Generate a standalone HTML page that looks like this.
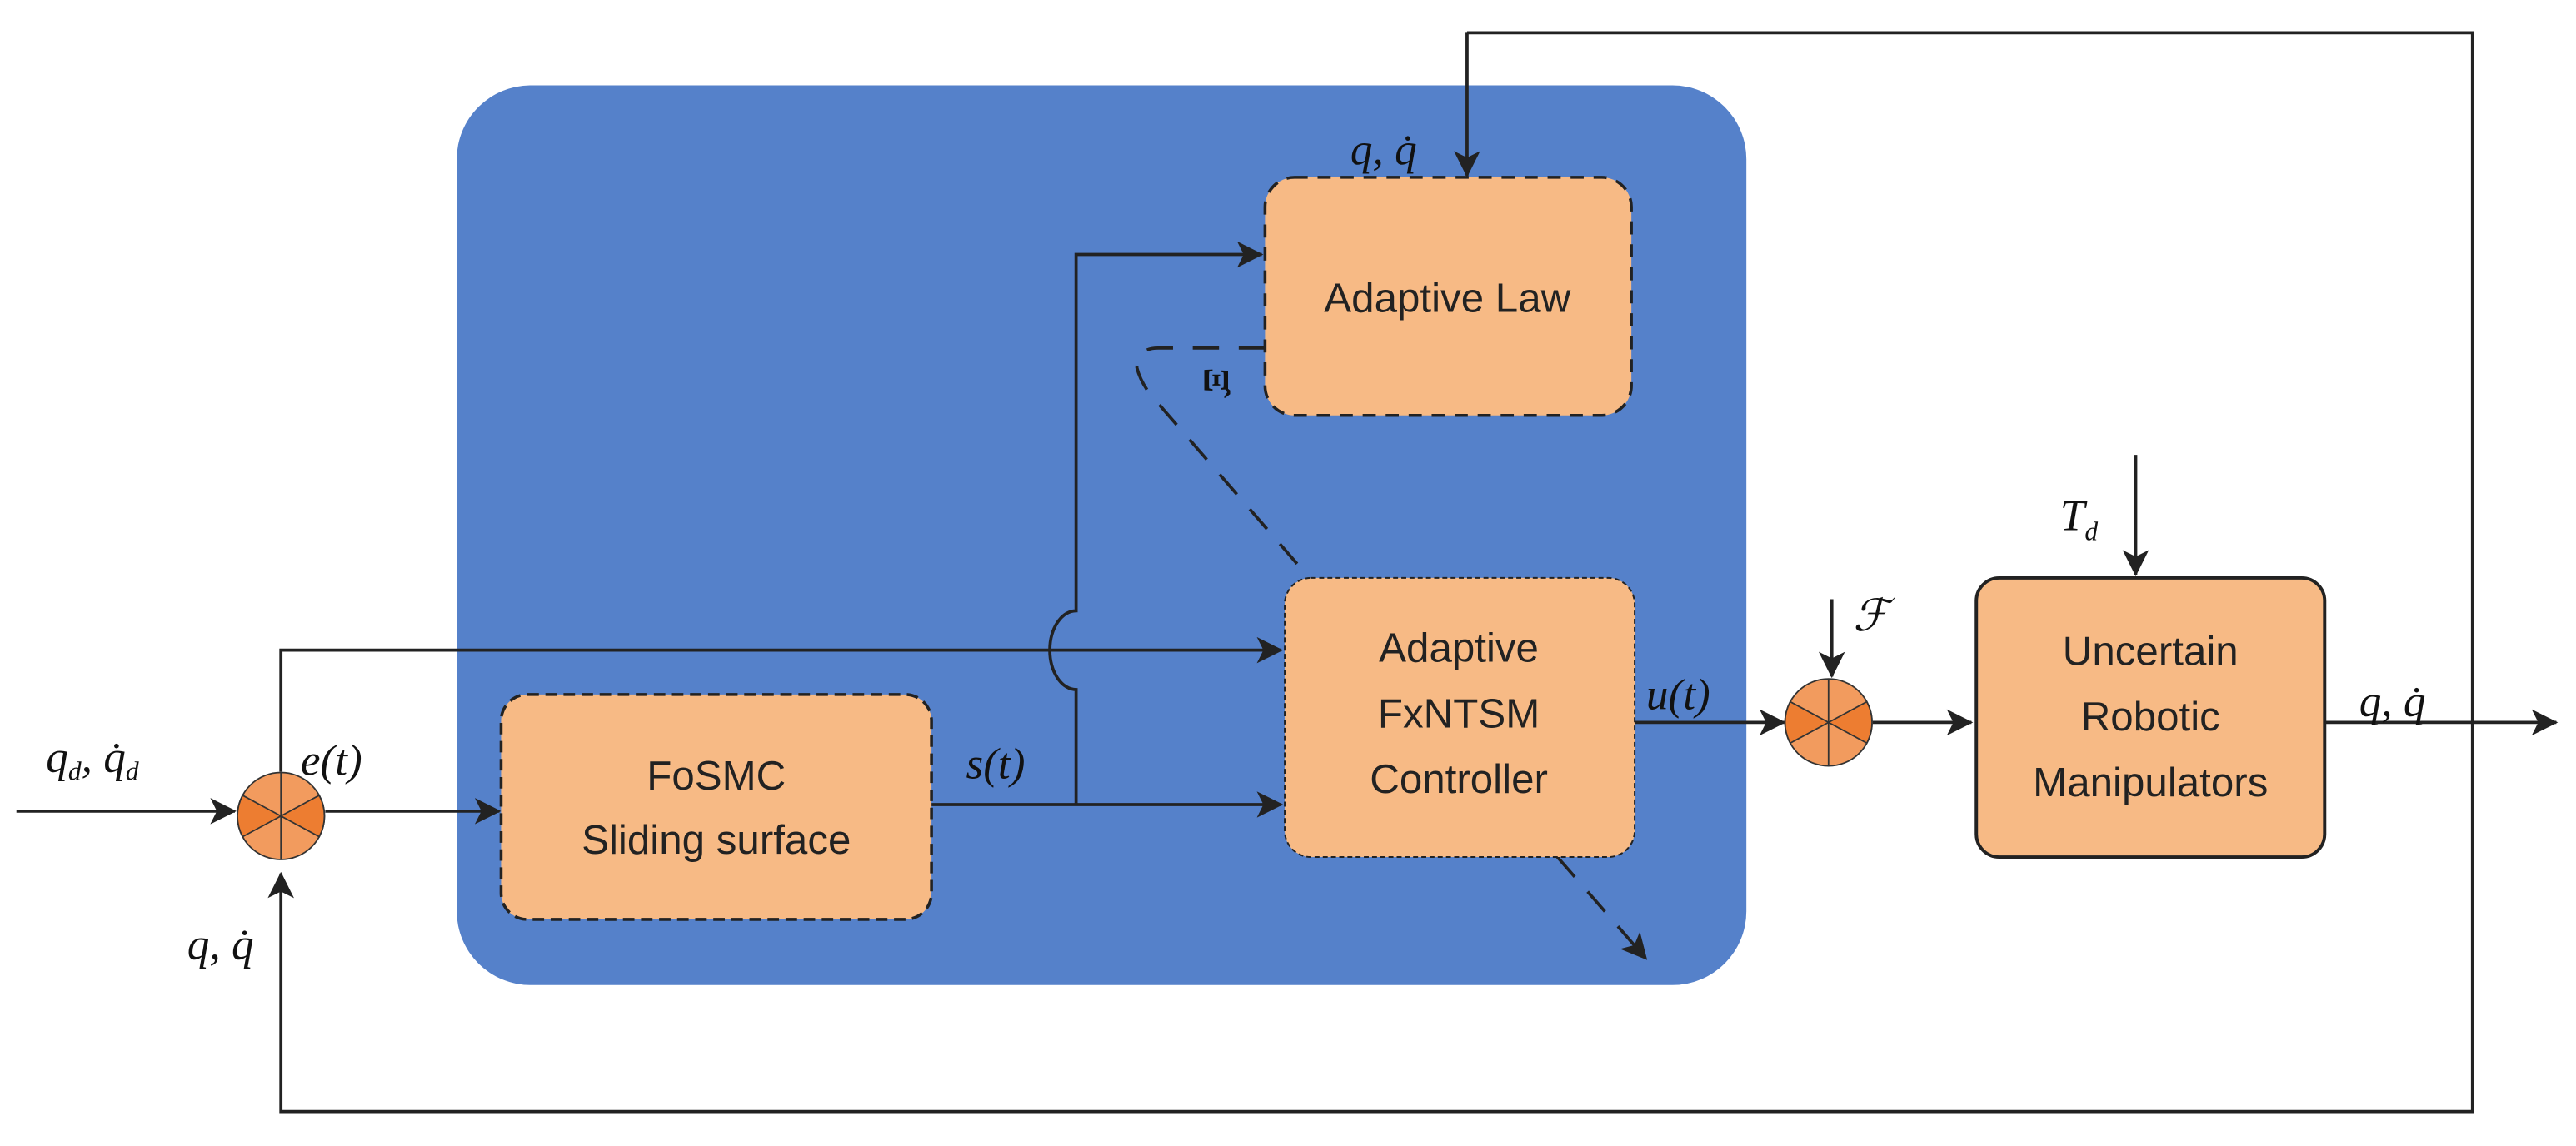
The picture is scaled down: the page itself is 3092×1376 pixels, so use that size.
<!DOCTYPE html>
<html><head><meta charset="utf-8"><style>html,body{margin:0;padding:0;background:#fff}svg{display:block}</style></head>
<body>
<svg width="3092" height="1376" viewBox="0 0 1568 698" preserveAspectRatio="none" xmlns="http://www.w3.org/2000/svg">
<defs>
<marker id="b" markerWidth="16" markerHeight="16" refX="15" refY="8" orient="auto" markerUnits="userSpaceOnUse"><path d="M0,0 L16,8 L0,16 L4,8 Z" fill="#222"/></marker>
</defs>
<rect x="278" y="52" width="785" height="548" rx="45" fill="#5581CA"/>
<g stroke="#222" stroke-width="1.9" fill="none">
<polyline points="893,20 1505,20 1505,677 171,677 171,532" marker-end="url(#b)"/>
<line x1="893" y1="20" x2="893" y2="107" marker-end="url(#b)"/>
<line x1="10" y1="494" x2="143" y2="494" marker-end="url(#b)"/>
<line x1="198" y1="494" x2="304" y2="494" marker-end="url(#b)"/>
<line x1="567" y1="490" x2="780" y2="490" marker-end="url(#b)"/>
<path d="M655,490 L655,420 A8,12 0 0 1 655,372 L655,155 L768,155" marker-end="url(#b)"/>
<polyline points="171,470 171,396 780,396" marker-end="url(#b)"/>
<line x1="995" y1="440" x2="1086" y2="440" marker-end="url(#b)"/>
<line x1="1115" y1="365" x2="1115" y2="412" marker-end="url(#b)"/>
<line x1="1140" y1="440" x2="1200" y2="440" marker-end="url(#b)"/>
<line x1="1300" y1="277" x2="1300" y2="350" marker-end="url(#b)"/>
<line x1="1415" y1="440" x2="1556" y2="440" marker-end="url(#b)"/>
<path d="M770,212 L705,212 Q692,212 692,224 Q694,232 700,240 L797,352" stroke-dasharray="16,12"/>
<line x1="948" y1="522" x2="1002" y2="584" stroke-dasharray="16,12" marker-end="url(#b)"/>
</g>
<rect x="305" y="423" width="262" height="137" rx="16" fill="#F7BA85" stroke="#222" stroke-width="1.8" stroke-dasharray="7,4"/>
<rect x="770" y="108" width="223" height="145" rx="18" fill="#F7BA85" stroke="#222" stroke-width="1.8" stroke-dasharray="8,6"/>
<rect x="782" y="352" width="213" height="170" rx="16" fill="#F7BA85" stroke="#222" stroke-width="1" stroke-dasharray="3,2"/>
<rect x="1203" y="352" width="212" height="170" rx="14" fill="#F7BA85" stroke="#222" stroke-width="2"/>
<g stroke="#333" stroke-width="0.9">
<g transform="translate(171,497)">
<circle r="26.5" fill="#F29B5E"/>
<path d="M0,0 L-23.3,-12.6 A26.5,26.5 0 0 0 -23.3,12.6 Z" fill="#ED7D31"/>
<path d="M0,0 L23.3,-12.6 A26.5,26.5 0 0 1 23.3,12.6 Z" fill="#ED7D31"/>
<line x1="0" y1="-26.5" x2="0" y2="26.5"/>
</g>
<g transform="translate(1113,440)">
<circle r="26.5" fill="#F29B5E"/>
<path d="M0,0 L-23.3,-12.6 A26.5,26.5 0 0 0 -23.3,12.6 Z" fill="#ED7D31"/>
<path d="M0,0 L23.3,-12.6 A26.5,26.5 0 0 1 23.3,12.6 Z" fill="#ED7D31"/>
<line x1="0" y1="-26.5" x2="0" y2="26.5"/>
</g>
</g>
<g font-family="Liberation Sans, sans-serif" font-size="25" fill="#222" text-anchor="middle">
<text x="436" y="481">FoSMC</text>
<text x="436" y="520">Sliding surface</text>
<text x="881" y="190">Adaptive Law</text>
<text x="888" y="403">Adaptive</text>
<text x="888" y="443">FxNTSM</text>
<text x="888" y="483">Controller</text>
<text x="1309" y="405">Uncertain</text>
<text x="1309" y="445">Robotic</text>
<text x="1309" y="485">Manipulators</text>
</g>
<g font-family="Liberation Serif, serif" font-size="27" font-style="italic" fill="#111">
<text x="28" y="470">q<tspan font-size="16" dy="5">d</tspan><tspan dy="-5">, q̇</tspan><tspan font-size="16" dy="5">d</tspan></text>
<text x="183" y="472">e(t)</text>
<text x="114" y="584">q, q̇</text>
<text x="588" y="474">s(t)</text>
<text x="1002" y="432">u(t)</text>
<text x="1128" y="384">ℱ</text>
<text x="1254" y="323">T<tspan font-size="16" dy="6">d</tspan></text>
<text x="1436" y="436">q, q̇</text>
<text x="822" y="100">q, q̇</text>
<text transform="translate(733,224) rotate(90)" font-style="normal" font-size="22" font-weight="bold">Ξ̂</text>
</g>
</svg>
</body></html>
